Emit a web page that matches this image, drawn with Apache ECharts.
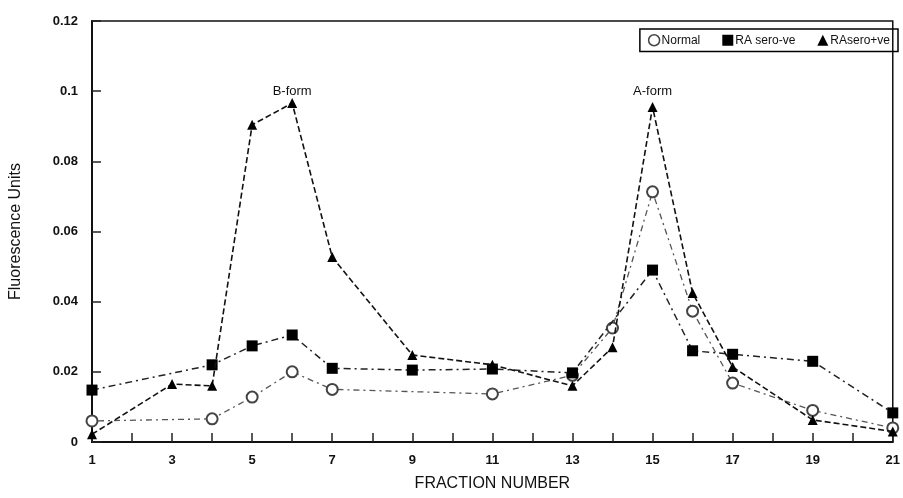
<!DOCTYPE html>
<html>
<head>
<meta charset="utf-8">
<script src="https://cdn.jsdelivr.net/npm/echarts@6/dist/echarts.min.js"></script>
<style>html,body{margin:0;padding:0;background:#fff;}#c{width:903px;height:498px;}</style>
</head>
<body>
<div id="c"></div>
<script>
var normalData = [[1,0.006],[4,0.0066],[5,0.0128],[6,0.020],[7,0.015],[11,0.0137],[13,0.019],[14,0.0325],[15,0.0713],[16,0.0373],[17,0.0168],[19,0.009],[21,0.004]];
var seroNegData = [[1,0.0148],[4,0.022],[5,0.0274],[6,0.0305],[7,0.021],[9,0.0205],[11,0.0208],[13,0.0197],[15,0.049],[16,0.026],[17,0.025],[19,0.023],[21,0.0083]];
var seroPosData = [[1,0.0022],[3,0.0165],[4,0.016],[5,0.0904],[6,0.0966],[7,0.0527],[9,0.0248],[11,0.022],[13,0.016],[14,0.027],[15,0.0955],[16,0.0425],[17,0.0214],[19,0.0063],[21,0.003]];
var seriesNames = ['Normal','RA sero-ve','RAsero+ve'];
var annotations = [{name:'B-form', coord:[6,0.1]},{name:'A-form', coord:[15,0.1]}];

var font = 'Liberation Sans, Arial, sans-serif';
var chart = echarts.init(document.getElementById('c'));
chart.setOption({
  animation:false,
  backgroundColor:'#fff',
  textStyle:{fontFamily:font},
  grid:{left:91,right:4,top:21,bottom:56,show:true,borderColor:'#111',borderWidth:1.5,backgroundColor:'transparent'},
  legend:{
    top:29,right:5,
    orient:'horizontal',
    borderColor:'#000',borderWidth:1.5,
    padding:[5,8,5,8],
    itemGap:22,itemWidth:11,itemHeight:11,
    textStyle:{fontSize:12,color:'#111',fontFamily:font,padding:[0,0,0,-3]},
    data:[
      {name:seriesNames[0],icon:'circle',itemStyle:{color:'#fff',borderColor:'#444',borderWidth:1.5}},
      {name:seriesNames[1],icon:'rect',itemStyle:{color:'#000'}},
      {name:seriesNames[2],icon:'triangle',itemStyle:{color:'#000'}}
    ]
  },
  xAxis:{
    type:'value',min:1,max:21,interval:1,
    name:'FRACTION NUMBER',nameLocation:'middle',nameGap:34,
    nameTextStyle:{fontSize:16,color:'#111',fontFamily:font},
    axisLine:{lineStyle:{color:'#111',width:2}},
    axisTick:{inside:true,length:9,lineStyle:{color:'#222',width:1.5}},
    splitLine:{show:false},
    axisLabel:{fontSize:13,color:'#111',margin:12,fontWeight:'bold',
      formatter:function(v){return (v%2===1)?String(v):'';}}
  },
  yAxis:{
    type:'value',min:0,max:0.12,interval:0.02,
    name:'Fluorescence Units',nameLocation:'middle',nameGap:68,
    nameTextStyle:{fontSize:16,color:'#111',fontFamily:font},
    axisLine:{show:true,lineStyle:{color:'#111',width:2}},
    axisTick:{show:true,inside:true,length:9,lineStyle:{color:'#222',width:1.5}},
    splitLine:{show:false},
    axisLabel:{fontSize:13,color:'#111',margin:14,fontWeight:'bold',
      formatter:function(v){return String(parseFloat(v.toFixed(3)));}}
  },
  series:[
    {name:seriesNames[0],type:'line',data:normalData,symbol:'emptyCircle',symbolSize:11,
      itemStyle:{color:'#444',borderColor:'#444',borderWidth:1.4},
      lineStyle:{color:'#555',width:1.3,type:[2,4,6,4]},z:2},
    {name:seriesNames[1],type:'line',data:seroNegData,symbol:'rect',symbolSize:11,
      itemStyle:{color:'#000'},
      lineStyle:{color:'#222',width:1.5,type:[7,4,2,4]},z:3},
    {name:seriesNames[2],type:'line',data:seroPosData,symbol:'triangle',symbolSize:10,
      itemStyle:{color:'#000'},
      lineStyle:{color:'#111',width:1.6,type:[6,3]},z:4,
      markPoint:{
        symbol:'rect',symbolSize:1,itemStyle:{color:'rgba(0,0,0,0)'},
        label:{show:true,position:'inside',color:'#111',fontSize:13,fontFamily:font,
          formatter:function(p){return p.name;}},
        data:annotations.map(function(a){return {name:a.name,coord:a.coord};})
      }}
  ]
});
</script>
</body>
</html>
